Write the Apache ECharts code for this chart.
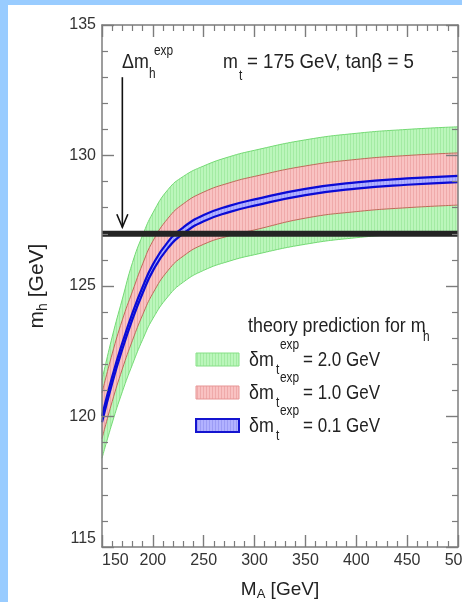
<!DOCTYPE html>
<html><head><meta charset="utf-8">
<script src="https://cdn.jsdelivr.net/npm/echarts@6/dist/echarts.min.js"></script>
<style>html,body{margin:0;padding:0;background:#fff}#c{width:462px;height:602px}</style>
</head><body><div id="c"></div>
<script>
// ---- data ----
const massA      = [150,160,170,180,190,200,215,230,250,275,300,350,400,450,500];
const greenUpper = [121.4,123.05,124.5,125.9,126.95,127.8,128.7,129.2,129.6,129.95,130.2,130.6,130.85,131.0,131.1];
const greenLower = [118.4,119.75,120.95,122.0,122.95,123.75,124.6,125.15,125.6,125.95,126.2,126.6,126.85,127.0,127.1];
const redUpper   = [120.9,122.4,123.7,124.8,125.85,126.72,127.6,128.15,128.6,128.95,129.2,129.6,129.85,130.0,130.1];
const redLower   = [119.15,120.57,121.82,122.92,123.9,124.72,125.6,126.15,126.6,126.92,127.15,127.6,127.85,128.0,128.1];
const blueUpper  = [120.02,121.52,122.82,123.97,124.97,125.82,126.7,127.25,127.72,128.07,128.32,128.72,128.97,129.12,129.22];
const blueLower  = [119.78,121.28,122.58,123.73,124.73,125.58,126.46,127.01,127.48,127.83,128.08,128.48,128.73,128.88,128.98];
const expLineX   = [150,500];
const expLineY   = [127,127];
const arrowX     = 170;
const arrowTopY  = 133.0;
const arrowTipY  = 127.25;
const legendLabels = ['= 2.0 GeV','= 1.0 GeV','= 0.1 GeV'];
const xTicks = {min:150, max:500, step:50};
const yTicks = {min:115, max:135, step:5};

// ---- styling ----
const FONT = '"Liberation Sans",Arial,Helvetica,sans-serif';
const AX = '#7c7c7c';
function stripes(base, line){
  const c = document.createElement('canvas'); c.width = 3; c.height = 4;
  const g = c.getContext('2d'); g.fillStyle = base; g.fillRect(0,0,3,4);
  g.fillStyle = line; g.fillRect(2,0,1,4); return {image:c, repeat:'repeat'};
}
const greenFill = stripes('#bbf6bb','#a3eba3');
const redFill   = stripes('#f9c2c2','#efaaaa');
const blueFill  = stripes('#b2b2ff','#9c9cf5');

function pairs(xs, ys){ return xs.map((x,i)=>[x, ys[i]]); }
const SM = {smooth:0.5, showSymbol:false, symbol:'none', silent:true};
// filled layers: each fills from its curve down to the axis minimum; nested order builds the bands
function fillLayer(ys, fill){
  return Object.assign({type:'line', data:pairs(massA, ys), lineStyle:{width:0, opacity:0},
    areaStyle:{color:fill, opacity:1, origin:'start'}}, SM);
}
function edge(ys, color, w){
  return Object.assign({type:'line', data:pairs(massA, ys), lineStyle:{color:color, width:w}}, SM);
}
const series = [
  fillLayer(greenUpper, greenFill),
  fillLayer(redUpper, redFill),
  fillLayer(blueUpper, blueFill),
  fillLayer(blueLower, redFill),
  fillLayer(redLower, greenFill),
  fillLayer(greenLower, '#ffffff'),
  edge(greenUpper, '#74da74', 1), edge(greenLower, '#74da74', 1),
  edge(redUpper, '#c06a5a', 1), edge(redLower, '#c06a5a', 1),
  edge(blueUpper, '#0b0bd6', 2.2), edge(blueLower, '#0b0bd6', 2.2),
  {type:'line', data:pairs(expLineX, expLineY), showSymbol:false, symbol:'none', silent:true,
    lineStyle:{color:'#242424', width:6}}
];

function axisCommon(show){
  return {
    z:10,
    axisLine:{show:true, lineStyle:{color:AX, width:1.5}},
    axisTick:{show:true, inside:true, length:12, lineStyle:{color:AX, width:1.4}},
    minorTick:{show:true, splitNumber:5, length:6, lineStyle:{color:AX, width:1.2}},
    splitLine:{show:false},
    axisLabel:{show:show, fontSize:16, color:'#333', fontFamily:FONT, margin:6}
  };
}
const xBottom = Object.assign({type:'value', position:'bottom', min:xTicks.min, max:xTicks.max, interval:xTicks.step,
  name:'{a|M}{s|A}{a| [GeV]}', nameLocation:'middle', nameGap:31, nameMoveOverlap:false,
  nameTextStyle:{rich:{a:{fontSize:19, fontFamily:FONT, color:'#222'}, s:{fontSize:13, fontFamily:FONT, color:'#222', padding:[10,0,0,0]}}}
}, axisCommon(true));
xBottom.axisLabel.alignMinLabel = 'left';
const xTop = Object.assign({type:'value', position:'top', min:xTicks.min, max:xTicks.max, interval:xTicks.step}, axisCommon(false));
const yLeft = Object.assign({type:'value', position:'left', min:yTicks.min, max:yTicks.max, interval:yTicks.step,
  name:'{a|m}{s|h}{a| [GeV]}', nameLocation:'middle', nameGap:52, nameRotate:90, nameMoveOverlap:false,
  nameTextStyle:{rich:{a:{fontSize:21, fontFamily:FONT, color:'#222'}, s:{fontSize:14, fontFamily:FONT, color:'#222', padding:[11,0,0,0]}}}
}, axisCommon(true));
yLeft.axisLabel.verticalAlignMinLabel = 'bottom';
const yRight = Object.assign({type:'value', position:'right', min:yTicks.min, max:yTicks.max, interval:yTicks.step}, axisCommon(false));

function txt(x, y, s, size, sx){
  return {type:'text', x:x, y:y, scaleX:sx||0.85, z:100, silent:true,
    style:{text:s, fontSize:size, fontFamily:FONT, fill:'#222', align:'left', verticalAlign:'middle'}};
}
function legendRow(y, fill, stroke, sw, label){
  return [
    {type:'rect', z:100, shape:{x:196, y:y-7, width:43, height:13}, style:{fill:fill, stroke:stroke, lineWidth:sw}, silent:true},
    txt(249, y, 'δm', 21), txt(276, y+10, 't', 14), txt(280, y-15, 'exp', 14), txt(303, y, label, 20)
  ];
}
const texts = [].concat(
  [{type:'rect', z:100, shape:{x:0, y:0, width:462, height:5}, style:{fill:'#99ccff'}, silent:true},
   {type:'rect', z:100, shape:{x:0, y:0, width:8, height:602}, style:{fill:'#99ccff'}, silent:true},
   txt(122, 62, 'Δm', 21), txt(149, 74, 'h', 14), txt(154, 51, 'exp', 14),
   txt(223, 62, 'm', 21), txt(239, 76, 't', 14), txt(247, 62, '= 175 GeV, tanβ = 5', 21, 0.89),
   txt(248, 326, 'theory prediction for m', 21), txt(423, 337, 'h', 14)],
  legendRow(360, greenFill, '#86e086', 1, legendLabels[0]),
  legendRow(393, redFill, '#e79595', 1, legendLabels[1]),
  legendRow(426, blueFill, '#1414d0', 2, legendLabels[2])
);

const chart = echarts.init(document.getElementById('c'), null, {renderer:'canvas'});
chart.setOption({
  animation:false,
  backgroundColor:'#fff',
  grid:{left:102, right:4, top:25, bottom:55, outerBoundsMode:'none', containLabel:false},
  xAxis:[xBottom, xTop],
  yAxis:[yLeft, yRight],
  series:series
});
// arrow for Δm_h^exp, positioned through the axes' scales
const pTop = chart.convertToPixel({xAxisIndex:0, yAxisIndex:0}, [arrowX, arrowTopY]);
const pTip = chart.convertToPixel({xAxisIndex:0, yAxisIndex:0}, [arrowX, arrowTipY]);
chart.setOption({graphic: texts.concat([
  {type:'line', z:100, shape:{x1:pTop[0], y1:pTop[1], x2:pTip[0], y2:pTip[1]}, style:{stroke:'#111', lineWidth:1.6}, silent:true},
  {type:'polyline', z:100, shape:{points:[[pTip[0]-5.5, pTip[1]-13],[pTip[0], pTip[1]],[pTip[0]+5.5, pTip[1]-13]]}, style:{stroke:'#111', lineWidth:1.6, fill:null}, silent:true}
])});
</script>
</body></html>
